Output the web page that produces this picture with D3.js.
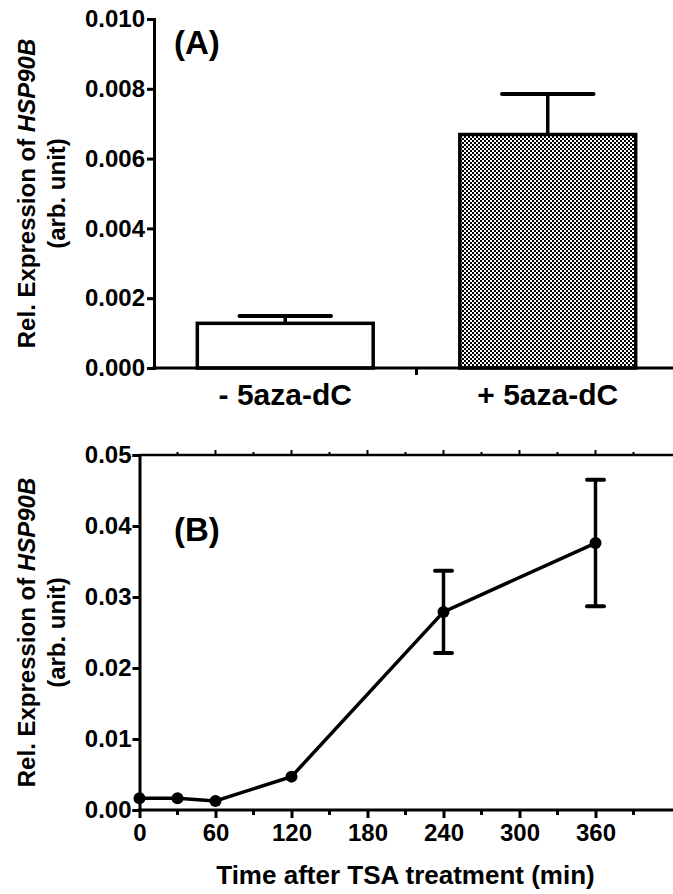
<!DOCTYPE html>
<html>
<head>
<meta charset="utf-8">
<script src="https://cdn.jsdelivr.net/npm/d3@7"></script>
<style>
  html, body { margin: 0; padding: 0; background: #fff; }
  svg { display: block; }
  text { font-family: "Liberation Sans", Arial, Helvetica, sans-serif; font-weight: bold; fill: #000; }
</style>
</head>
<body>
<svg id="chart" width="673" height="894"></svg>
<script>
// ---------- Data ----------
// Panel A
const categoriesA = ["- 5aza-dC", "+ 5aza-dC"];
const meansA = [0.00128, 0.00669];
const errorsA = [0.00021, 0.00116];
const yTicksA = [0.000, 0.002, 0.004, 0.006, 0.008, 0.010];

// Panel B
const timesB = [0, 30, 60, 120, 240, 360];
const meansB = [0.00165, 0.00165, 0.00127, 0.0047, 0.0279, 0.0376];
const errorsB = [0.0001, 0.0001, 0.0001, 0.0002, 0.0058, 0.0089];
const xTicksB = [0, 60, 120, 180, 240, 300, 360];
const xMinorTicksB = [30, 90, 150, 210, 270, 330, 390];
const yTicksB = [0.00, 0.01, 0.02, 0.03, 0.04, 0.05];

const svg = d3.select("#chart");
const W = 673;

// pattern for checkered bar
const defs = svg.append("defs");
const pat = defs.append("pattern").attr("id", "checker")
  .attr("patternUnits", "userSpaceOnUse").attr("width", 4).attr("height", 4);
pat.append("rect").attr("width", 4).attr("height", 4).attr("fill", "#fff");
pat.append("rect").attr("x", 0).attr("y", 0).attr("width", 2).attr("height", 2).attr("fill", "#000");
pat.append("rect").attr("x", 2).attr("y", 2).attr("width", 2).attr("height", 2).attr("fill", "#000");

function yTitle(g, cx, cy) {
  const t1 = g.append("text")
    .attr("transform", `translate(${cx},${cy}) rotate(-90)`)
    .attr("text-anchor", "middle")
    .attr("font-size", 24)
    .attr("dy", "0.35em");
  t1.append("tspan").text("Rel. Expression of ");
  t1.append("tspan").attr("font-style", "italic").text("HSP90B");
  g.append("text")
    .attr("transform", `translate(${cx + 30},${cy}) rotate(-90)`)
    .attr("text-anchor", "middle")
    .attr("font-size", 24)
    .attr("dy", "0.35em")
    .text("(arb. unit)");
}

// ---------- Panel A ----------
const axA = 154;
const yA = d3.scaleLinear().domain([0, 0.010]).range([368, 19]);
const xA = d3.scaleBand().domain(categoriesA).range([axA, 679]).paddingInner(0.33).paddingOuter(0.165);

const gA = svg.append("g");

// bars
gA.selectAll("rect.bar").data(categoriesA).enter().append("rect")
  .attr("class", "bar")
  .attr("x", d => xA(d))
  .attr("y", (d, i) => yA(meansA[i]))
  .attr("width", xA.bandwidth())
  .attr("height", (d, i) => yA(0) - yA(meansA[i]))
  .attr("fill", (d, i) => i === 0 ? "#fff" : "url(#checker)")
  .attr("stroke", "#000")
  .attr("stroke-width", 3.5);

// error bars (upper only)
const capA = xA.bandwidth() * 0.52;
categoriesA.forEach((c, i) => {
  const cx = xA(c) + xA.bandwidth() / 2;
  gA.append("line").attr("x1", cx).attr("x2", cx)
    .attr("y1", yA(meansA[i])).attr("y2", yA(meansA[i] + errorsA[i]))
    .attr("stroke", "#000").attr("stroke-width", 3.5);
  gA.append("line").attr("x1", cx - capA / 2).attr("x2", cx + capA / 2)
    .attr("y1", yA(meansA[i] + errorsA[i])).attr("y2", yA(meansA[i] + errorsA[i]))
    .attr("stroke", "#000").attr("stroke-width", 4).attr("stroke-linecap", "round");
});

// y axis A
const yAxisA = gA.append("g").attr("transform", `translate(${axA},0)`)
  .call(d3.axisLeft(yA).tickValues(yTicksA).tickFormat(d3.format(".3f")).tickSize(7).tickPadding(2));
yAxisA.select(".domain").attr("stroke-width", 3);
yAxisA.selectAll(".tick line").attr("stroke-width", 3);
yAxisA.selectAll(".tick text").attr("font-size", 24).attr("font-family", "Liberation Sans, Arial").attr("font-weight", "bold");

// x axis A
gA.append("line").attr("x1", axA - 1.5).attr("x2", W).attr("y1", yA(0)).attr("y2", yA(0))
  .attr("stroke", "#000").attr("stroke-width", 3);
const sepX = xA(categoriesA[1]) - xA.step() * xA.paddingInner() / 2;
gA.append("line").attr("x1", sepX).attr("x2", sepX).attr("y1", yA(0)).attr("y2", yA(0) + 7)
  .attr("stroke", "#000").attr("stroke-width", 3);
gA.selectAll("text.cat").data(categoriesA).enter().append("text")
  .attr("class", "cat")
  .attr("x", d => xA(d) + xA.bandwidth() / 2)
  .attr("y", 405)
  .attr("text-anchor", "middle")
  .attr("font-size", 30)
  .text(d => d);

yTitle(gA, 27, (yA.range()[0] + yA.range()[1]) / 2);
gA.append("text").attr("x", 174).attr("y", 54).attr("font-size", 33).text("(A)");

// ---------- Panel B ----------
const axB = 139.5;
const xB = d3.scaleLinear().domain([0, 420]).range([axB, 671.5]);
const yB = d3.scaleLinear().domain([0, 0.05]).range([810, 455]);
const gB = svg.append("g");

// top frame line
gB.append("line").attr("x1", axB).attr("x2", W).attr("y1", yB(0.05)).attr("y2", yB(0.05))
  .attr("stroke", "#000").attr("stroke-width", 2.5);
gB.selectAll("line.topmajor").data(xTicksB.slice(1)).enter().append("line")
  .attr("x1", d => xB(d)).attr("x2", d => xB(d))
  .attr("y1", yB(0.05)).attr("y2", yB(0.05) - 5)
  .attr("stroke", "#000").attr("stroke-width", 2);
gB.selectAll("line.topminor").data(xMinorTicksB).enter().append("line")
  .attr("x1", d => xB(d)).attr("x2", d => xB(d))
  .attr("y1", yB(0.05)).attr("y2", yB(0.05) - 3)
  .attr("stroke", "#000").attr("stroke-width", 2);

// x axis B
const xAxisB = gB.append("g").attr("transform", `translate(0,${yB(0)})`)
  .call(d3.axisBottom(xB).tickValues(xTicksB).tickSize(8).tickPadding(6));
xAxisB.select(".domain").remove();
xAxisB.selectAll(".tick line").attr("stroke-width", 3);
xAxisB.selectAll(".tick text").attr("font-size", 24).attr("font-family", "Liberation Sans, Arial").attr("font-weight", "bold");
gB.append("line").attr("x1", axB - 1.5).attr("x2", W).attr("y1", yB(0)).attr("y2", yB(0))
  .attr("stroke", "#000").attr("stroke-width", 3);
gB.selectAll("line.minor").data(xMinorTicksB).enter().append("line")
  .attr("x1", d => xB(d)).attr("x2", d => xB(d))
  .attr("y1", yB(0)).attr("y2", yB(0) + 5)
  .attr("stroke", "#000").attr("stroke-width", 3);

// y axis B
const yAxisB = gB.append("g").attr("transform", `translate(${axB},0)`)
  .call(d3.axisLeft(yB).tickValues(yTicksB).tickFormat(d3.format(".2f")).tickSize(7).tickPadding(1));
yAxisB.select(".domain").attr("stroke-width", 3);
yAxisB.selectAll(".tick line").attr("stroke-width", 3);
yAxisB.selectAll(".tick text").attr("font-size", 24).attr("font-family", "Liberation Sans, Arial").attr("font-weight", "bold");

// error bars B (hidden when shorter than the symbol, as in the original)
const capB = 17, rB = 6;
timesB.forEach((t, i) => {
  const cx = xB(t);
  const lo = yB(meansB[i] - errorsB[i]), hi = yB(meansB[i] + errorsB[i]);
  if (lo - yB(meansB[i]) <= rB) return;
  gB.append("line").attr("x1", cx).attr("x2", cx).attr("y1", lo).attr("y2", hi)
    .attr("stroke", "#000").attr("stroke-width", 3.5);
  [lo, hi].forEach(y => gB.append("line").attr("x1", cx - capB / 2).attr("x2", cx + capB / 2)
    .attr("y1", y).attr("y2", y).attr("stroke", "#000").attr("stroke-width", 4).attr("stroke-linecap", "round"));
});

// line
const line = d3.line().x((d, i) => xB(timesB[i])).y((d, i) => yB(meansB[i]));
gB.append("path").datum(meansB).attr("d", line)
  .attr("fill", "none").attr("stroke", "#000").attr("stroke-width", 3.5);
gB.selectAll("circle.pt").data(meansB).enter().append("circle")
  .attr("cx", (d, i) => xB(timesB[i])).attr("cy", d => yB(d)).attr("r", rB).attr("fill", "#000");

yTitle(gB, 27, (yB.range()[0] + yB.range()[1]) / 2);
gB.append("text").attr("x", 174).attr("y", 541).attr("font-size", 33).text("(B)");
gB.append("text").attr("x", (xB.range()[0] + xB.range()[1]) / 2).attr("y", 884)
  .attr("text-anchor", "middle").attr("font-size", 26).text("Time after TSA treatment (min)");
</script>
</body>
</html>
